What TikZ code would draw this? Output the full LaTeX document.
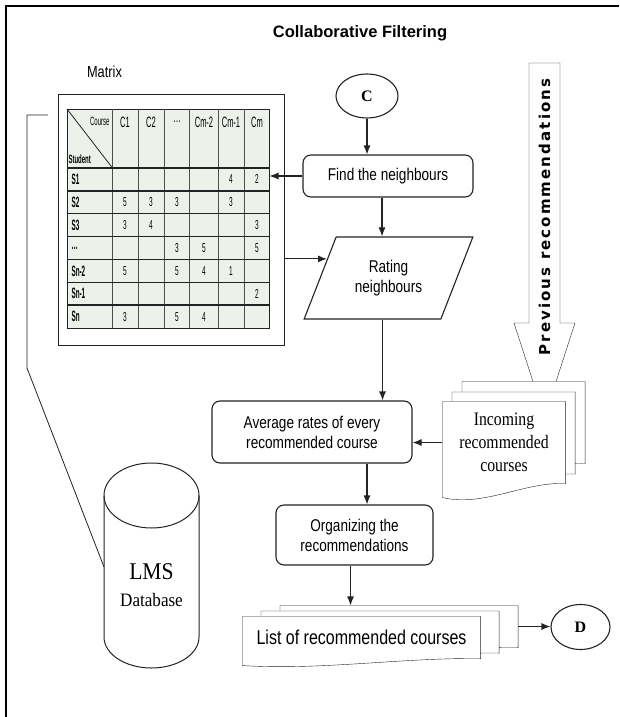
\documentclass[tikz,border=0pt]{standalone}
\usepackage{fontspec}
\usepackage{xcolor}
\usepackage{tikz}
\usetikzlibrary{positioning,shapes,arrows.meta,backgrounds,calc}
\newfontfamily\narrowsans{Liberation Sans}[FakeStretch=0.8]
\newfontfamily\narrowserif{Liberation Serif}[FakeStretch=0.83]
\newfontfamily\dbserif{Liberation Serif}[FakeStretch=0.9]
\newfontfamily\plainsans{Liberation Sans}
\newfontfamily\plainserif{Liberation Serif}
\newfontfamily\spacedsans{DejaVu Sans}[LetterSpace=14]
\newfontfamily\cellsans{Liberation Sans}[FakeStretch=0.5]
\newfontfamily\labelsans{Liberation Sans}[FakeStretch=0.42]
\definecolor{cellgray}{RGB}{236,241,234}
\definecolor{linegray}{RGB}{35,35,35}
\definecolor{gridgray}{RGB}{80,80,80}
\newcommand{\flowfont}{\narrowsans\fontsize{17}{20}\selectfont}
\newcommand{\docfont}{\narrowserif\fontsize{19}{23}\selectfont}
\newcommand{\listfont}{\narrowsans\fontsize{20}{24}\selectfont}
\newcommand{\connfont}{\plainserif\bfseries\fontsize{16}{18}\selectfont}
\newcommand{\cellfont}{\cellsans\fontsize{13}{14}\selectfont}
\newcommand{\headfont}{\cellsans\fontsize{15}{16}\selectfont}
\newcommand{\smallhead}{\cellsans\fontsize{12}{13}\selectfont}
\newcommand{\rowfont}{\labelsans\bfseries\fontsize{15}{16}\selectfont}
% document outline with a wavy bottom edge
\newcommand{\docpath}[2]{(#1.north west) -- (#1.north east) -- (#1.south east)
  .. controls ($(#1.south east)!0.333!(#1.south west)+(0,{-#2/7})$) and ($(#1.south east)!0.667!(#1.south west)+(0,{#2*1.7})$) .. ($(#1.south west)+(0,#2)$) -- cycle}

\begin{document}
\begin{tikzpicture}[x=1pt, y=-1pt, line width=1.1pt, >={Latex[length=9pt,width=7pt]}]
    \tikzstyle{process} = [rectangle, rounded corners=8pt, draw=linegray, fill=white, align=center, font=\flowfont, inner sep=2pt]
    \tikzstyle{io} = [trapezium, trapezium left angle=62, trapezium right angle=118, trapezium stretches=true, minimum width=169, minimum height=82, draw=linegray, fill=white, align=center, font=\flowfont]
    \tikzstyle{connector} = [ellipse, draw=linegray, fill=white, font=\connfont, inner sep=0pt]
    \tikzstyle{docbox} = [rectangle, inner sep=0pt, align=center]
    \tikzstyle{docline} = [draw=linegray, fill=white]
    \tikzstyle{line} = [draw=linegray, ->]
    \tikzstyle{cell} = [font=\cellfont, inner sep=0pt]
    \tikzstyle{headcell} = [font=\headfont, inner sep=0pt]
    \tikzstyle{rowlabel} = [font=\rowfont, inner sep=0pt, anchor=west]

    \useasboundingbox (0,0) rectangle (619,717);
    \draw[line width=2pt] (619,6) -- (6,6) -- (6,717);

    % Title
    \node[font=\plainsans\bfseries\fontsize{16.5}{20}\selectfont] (title) at (360,33) {Collaborative Filtering};

    % Rating matrix
    \node[font=\narrowsans\fontsize{16}{18}\selectfont] (mlabel) at (104.5,72) {Matrix};
    \node[draw=linegray, line width=1pt, minimum width=226, minimum height=251, inner sep=0pt] (mbox) at (171,219.5) {};
    \node[draw=linegray, line width=1pt, fill=cellgray, minimum width=202, minimum height=219, inner sep=0pt] (tbl) at (168,218.5) {};
    \foreach \x in {112.5,138,164,189.5,218.5,244}
        \draw[gridgray, line width=0.8pt] (\x,109) -- (\x,328);
    \foreach \y in {190.9,213.7,236.6,259.4,282.3,305.1}
        \draw[linegray, line width=1.4pt] (67,\y) -- (269,\y);
    \draw[linegray, line width=2pt] (67,168) -- (269,168);
    \draw[linegray, line width=0.8pt] (67,109) -- (112.5,168);
    \node[font=\smallhead, inner sep=0pt, anchor=east] (hcourse) at (110,121) {Course};
    \node[font=\smallhead\bfseries, inner sep=0pt, anchor=west] (hstudent) at (68,159) {Student};
    \foreach \x/\t [count=\i] in {125/C1, 151/C2, 177/\ldots, 204/Cm-2, 231/Cm-1, 257/Cm}
        \node[headcell] (h\i) at (\x,122) {\t};
    \foreach \y/\t [count=\i] in {179.4/S1, 202.3/S2, 225.1/S3, 248/\ldots, 270.9/Sn-2, 293.7/Sn-1, 316.6/Sn}
        \node[rowlabel] (s\i) at (71,\y) {\t};
    \foreach \x/\v in {231/4, 257/2} \node[cell] (r1-\x) at (\x,179.4) {\v};
    \foreach \x/\v in {125/5, 151/3, 177/3, 231/3} \node[cell] (r2-\x) at (\x,202.3) {\v};
    \foreach \x/\v in {125/3, 151/4, 257/3} \node[cell] (r3-\x) at (\x,225.1) {\v};
    \foreach \x/\v in {177/3, 204/5, 257/5} \node[cell] (r4-\x) at (\x,248) {\v};
    \foreach \x/\v in {125/5, 177/5, 204/4, 231/1} \node[cell] (r5-\x) at (\x,270.9) {\v};
    \foreach \x/\v in {257/2} \node[cell] (r6-\x) at (\x,293.7) {\v};
    \foreach \x/\v in {125/3, 177/5, 204/4} \node[cell] (r7-\x) at (\x,316.6) {\v};

    % LMS database
    \draw[linegray, line width=1pt] (104,495.5) -- (104,637) arc[start angle=180, end angle=0, x radius=47.5, y radius=31] -- (199,495.5);
    \draw[linegray, line width=1pt] (151.5,495.5) ellipse[x radius=47.5, y radius=32.5];
    \node[font=\dbserif\fontsize{24}{26}\selectfont, inner sep=0pt] (lms) at (151.5,572) {LMS};
    \node[font=\dbserif\fontsize{19}{22}\selectfont, inner sep=0pt] (dbname) at (151.5,600) {Database};
    \coordinate (dbside) at (104,567);
    \coordinate (mfree) at (48,115);
    \draw[linegray, line width=0.8pt] (dbside) -- (27,368) |- (mfree);

    % Flow steps
    \node[connector, minimum width=62, minimum height=44] (cnode) at (367,96) {C};
    \node[process, minimum width=170, minimum height=42] (find) at (388,176) {Find the neighbours};
    \node[io] (rate) at (388.5,278) {Rating\\neighbours};
    \node[process, minimum width=200, minimum height=62] (avg) at (312,432) {Average rates of every\\recommended course};
    \node[process, minimum width=157, minimum height=60] (org) at (354.5,535) {Organizing the\\recommendations};
    \node[connector, minimum width=59, minimum height=45] (dnode) at (580.5,627) {D};

    % Previous recommendations and document stacks
    \node[rotate=90, font=\spacedsans\bfseries\fontsize{15}{18}\selectfont] (prev) at (544.5,217) {Previous recommendations};
    \node[docbox, minimum width=122, minimum height=81] (inc3) at (523.5,422.5) {};
    \node[docbox, minimum width=122, minimum height=81] (inc2) at (513.5,433) {};
    \node[docbox, minimum width=122, minimum height=81, font=\docfont] (inc) at (504,442.5) {Incoming\\recommended\\courses};
    \node[docbox, minimum width=237, minimum height=41] (list3) at (399,626.5) {};
    \node[docbox, minimum width=237, minimum height=41] (list2) at (380,632) {};
    \node[docbox, minimum width=237, minimum height=41, font=\listfont] (list) at (361.5,637.5) {List of recommended courses};
    \begin{scope}[on background layer]
        \draw[docline] (529,63) -- (560,63) -- (560,323) -- (575,323) -- (544.5,417) -- (514,323) -- (529,323) -- cycle;
        \draw[docline] \docpath{inc3}{14};
        \draw[docline] \docpath{inc2}{14};
        \draw[docline] \docpath{inc}{14};
        \draw[docline] \docpath{list3}{7};
        \draw[docline] \docpath{list2}{7};
        \draw[docline] \docpath{list}{7};
    \end{scope}

    % Arrows
    \coordinate (rl) at ($(rate.top left corner)!0.27!(rate.bottom left corner)$);
    \draw[line] (cnode) -- (cnode |- find.north);
    \draw[line] (find.west) -- (find.west -| tbl.east);
    \draw[line] ([xshift=-6pt]find.south) -- ([xshift=-6pt]find.south |- rate.north);
    \draw[line] (rl -| mbox.east) -- (rl);
    \draw[line] ([xshift=-6pt]rate.south) -- ([xshift=-6pt]rate.south |- avg.north);
    \draw[line] (inc.west) -- (inc.west -| avg.east);
    \draw[line] ([xshift=55pt]avg.south) -- ([xshift=55pt]avg.south |- org.north);
    \draw[line] ([xshift=-4pt]org.south) -- ([xshift=-4pt]org.south |- list3.north);
    \draw[line] (list3.east) -- (list3.east -| dnode.west);
\end{tikzpicture}
\end{document}
